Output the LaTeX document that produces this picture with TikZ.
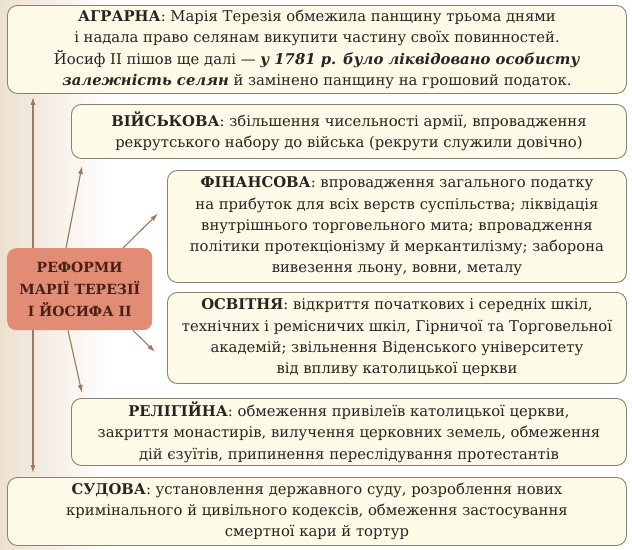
\documentclass[tikz,border=0pt]{standalone}
\usepackage{fontspec}
\setmainfont{DejaVu Serif}
\usetikzlibrary{arrows.meta}
\definecolor{arrcol}{RGB}{155,122,95}
\definecolor{boxline}{RGB}{140,128,112}
\definecolor{boxfill}{RGB}{253,251,232}
\definecolor{refcol}{RGB}{226,140,118}
\definecolor{reftext}{RGB}{72,32,22}
\definecolor{bgcol}{RGB}{236,224,208}
\definecolor{txtcol}{RGB}{40,36,32}
\begin{document}
\begin{tikzpicture}[x=1pt, y=-1pt, >={Latex[length=8pt,width=5pt]},
  box/.style={draw=boxline, fill=boxfill, rounded corners=10pt, line width=0.9pt, anchor=north west,
    align=center, inner sep=0pt, text=txtcol, font=\fontsize{14.8}{21.3}\selectfont},
  arr/.style={->, draw=arrcol, fill=arrcol, line width=1.1pt}]
\useasboundingbox (0,0) rectangle (632,549);
\fill[white] (0,0) rectangle (632,549);
\shade[left color=bgcol, right color=white] (0,0) rectangle (110,549);
\node[box, minimum width=619pt, minimum height=88pt] (agr) at (7,5)
  {\textbf{АГРАРНА}: Марія Терезія обмежила панщину трьома днями\\
   і надала право селянам викупити частину своїх повинностей.\\
   Йосиф II пішов ще далі — \textbf{\textit{у 1781 р. було ліквідовано особисту}}\\
   \textbf{\textit{залежність селян}} й замінено панщину на грошовий податок.};
\node[box, minimum width=555pt, minimum height=54pt] (voy) at (71,104)
  {\textbf{ВІЙСЬКОВА}: збільшення чисельності армії, впровадження\\
   рекрутського набору до війська (рекрути служили довічно)};
\node[box, minimum width=459pt, minimum height=112pt] (fin) at (167,170)
  {\textbf{ФІНАНСОВА}: впровадження загального податку\\
   на прибуток для всіх верств суспільства; ліквідація\\
   внутрішнього торговельного мита; впровадження\\
   політики протекціонізму й меркантилізму; заборона\\
   вивезення льону, вовни, металу};
\node[box, minimum width=459pt, minimum height=91pt] (osv) at (167,292)
  {\textbf{ОСВІТНЯ}: відкриття початкових і середніх шкіл,\\
   технічних і ремісничих шкіл, Гірничої та Торговельної\\
   академій; звільнення Віденського університету\\
   від впливу католицької церкви};
\node[box, minimum width=555pt, minimum height=67pt] (rel) at (71,398)
  {\textbf{РЕЛІГІЙНА}: обмеження привілеїв католицької церкви,\\
   закриття монастирів, вилучення церковних земель, обмеження\\
   дій єзуїтів, припинення переслідування протестантів};
\node[box, minimum width=619pt, minimum height=68pt] (sud) at (7,477)
  {\textbf{СУДОВА}: установлення державного суду, розроблення нових\\
   кримінального й цивільного кодексів, обмеження застосування\\
   смертної кари й тортур};
\node[fill=refcol, rounded corners=9pt, minimum width=145pt, minimum height=82pt, anchor=north west,
  align=center, inner sep=0pt, text=reftext, font=\bfseries\fontsize{14}{22}\selectfont] (ref) at (7,248)
  {РЕФОРМИ\\МАРІЇ ТЕРЕЗІЇ\\І ЙОСИФА II};
\draw[arr, shorten >=3pt] ([xshift=26pt]ref.north west) -- ([xshift=26pt]agr.south west);
\draw[arr] ([xshift=59pt]ref.north west) -- ([xshift=11pt,yshift=-7pt]voy.south west);
\draw[arr] ([xshift=116pt]ref.north west) -- ([xshift=-9pt,yshift=13pt]fin.west);
\draw[arr] ([xshift=126pt]ref.south west) -- ([xshift=-12pt,yshift=-14pt]osv.west);
\draw[arr] ([xshift=61pt]ref.south west) -- ([xshift=11pt,yshift=5pt]rel.north west);
\draw[arr, shorten >=4pt] ([xshift=26pt]ref.south west) -- ([xshift=26pt]sud.north west);
\end{tikzpicture}
\end{document}
